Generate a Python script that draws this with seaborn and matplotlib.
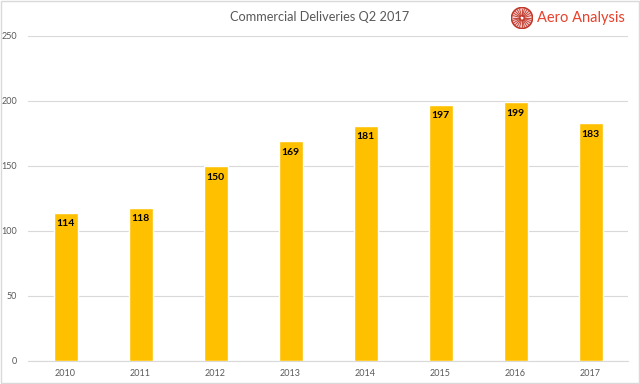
import matplotlib
matplotlib.use("Agg")
import matplotlib.pyplot as plt
import seaborn as sns
import pandas as pd
import numpy as np
from matplotlib.patches import Circle, Rectangle

years = ["2010", "2011", "2012", "2013", "2014", "2015", "2016", "2017"]
deliveries = [114, 118, 150, 169, 181, 197, 199, 183]
yticks = [0, 50, 100, 150, 200, 250]

df = pd.DataFrame({"year": years, "deliveries": deliveries})

sns.set_style("white")
plt.rcParams["font.family"] = ["Lato", "DejaVu Sans"]

fig = plt.figure(figsize=(6.4, 3.84), dpi=100)
ax = fig.add_axes([0.04375, 0.0599, 0.9375, 0.8464])
sns.barplot(data=df, x="year", y="deliveries", color="#FFC000", saturation=1,
            width=0.32, ax=ax, zorder=3)
ax.set_ylim(0, 250)
ax.set_yticks(yticks)
ax.set_xlim(-0.5, len(years) - 0.5)
ax.yaxis.grid(True, color="#D9D9D9", linewidth=0.8, zorder=0)
ax.set_axisbelow(True)
for s in ["top", "right", "left"]:
    ax.spines[s].set_visible(False)
ax.spines["bottom"].set_color("#D9D9D9")
ax.set_xlabel("")
ax.set_ylabel("")
ax.tick_params(axis="both", length=0, labelsize=6.5, labelcolor="#595959")
ax.tick_params(axis="x", pad=6)
ax.tick_params(axis="y", pad=8)

for i, v in enumerate(deliveries):
    ax.text(i, v - 8.5, str(v), ha="center", va="center", fontsize=7.5,
            fontweight="bold", color="black", zorder=4)

fig.text(0.5, 0.955, "Commercial Deliveries Q2 2017", ha="center", va="center",
         fontsize=9.2, color="#595959")

# logo
logo_ax = fig.add_axes([511 / 640, 1 - 29 / 384, 22 / 640, 22 / 384])
logo_ax.set_xlim(-1, 1)
logo_ax.set_ylim(-1, 1)
logo_ax.axis("off")
logo_ax.add_patch(Circle((0, 0), 0.95, facecolor="#F4CCCC", edgecolor="#C0392B", linewidth=1.2))
for a in np.linspace(0, 2 * np.pi, 24, endpoint=False):
    logo_ax.plot([0.2 * np.cos(a), 0.85 * np.cos(a)], [0.2 * np.sin(a), 0.85 * np.sin(a)],
                 color="#C0392B", linewidth=0.6)
logo_ax.add_patch(Circle((0, 0), 0.2, facecolor="white", edgecolor="#C0392B", linewidth=0.8))
fig.text(537 / 640, 1 - 18 / 384, "Aero Analysis", ha="left", va="center",
         fontsize=10.5, color="#E8412C")

fig.patches.append(Rectangle((0.002, 0.003), 0.996, 0.994, transform=fig.transFigure,
                             fill=False, edgecolor="#D9D9D9", linewidth=1))

fig.savefig("out.png", dpi=100)
